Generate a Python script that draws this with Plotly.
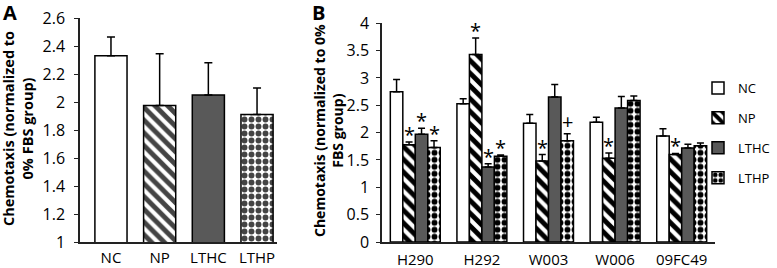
import plotly.graph_objects as go

# ---------------- data ----------------
a_categories = ["NC", "NP", "LTHC", "LTHP"]
a_values = [2.33, 1.975, 2.05, 1.91]
a_errors = [0.135, 0.37, 0.23, 0.19]

b_categories = ["H290", "H292", "W003", "W006", "09FC49"]
series_names = ["NC", "NP", "LTHC", "LTHP"]
nc_values = [2.75, 2.53, 2.17, 2.19, 1.94]
nc_errors = [0.22, 0.09, 0.16, 0.09, 0.13]
np_values = [1.78, 3.43, 1.48, 1.53, 1.60]
np_errors = [0.05, 0.30, 0.12, 0.10, 0.02]
lthc_values = [1.97, 1.37, 2.65, 2.45, 1.72]
lthc_errors = [0.11, 0.06, 0.23, 0.21, 0.07]
lthp_values = [1.73, 1.57, 1.85, 2.59, 1.76]
lthp_errors = [0.12, 0.02, 0.13, 0.08, 0.05]
nc_marks = ["", "", "", "", ""]
np_marks = ["*", "*", "*", "*", "*"]
lthc_marks = ["*", "*", "", "", ""]
lthp_marks = ["*", "*", "+", "", ""]

a_tick_vals = [1, 1.2, 1.4, 1.6, 1.8, 2, 2.2, 2.4, 2.6]
b_tick_vals = [0, 0.5, 1, 1.5, 2, 2.5, 3, 3.5, 4]

# ---------------- layout helpers ----------------
FONT = "Open Sans"
W, H = 777, 268


def px(x):
    return x / W


def py(y):
    return 1 - y / H


fills = {"NC": "white", "NP": "white", "LTHC": "#595959", "LTHP": "white"}
shapes = {"NC": "", "NP": "\\", "LTHC": "", "LTHP": "."}
psize = {"NC": 8, "NP": 9, "LTHC": 8, "LTHP": 7}
psolid = {"NC": 0.3, "NP": 0.55, "LTHC": 0.3, "LTHP": 0.55}

fig = go.Figure()

# Panel A: single trace with per-bar patterns
fig.add_trace(go.Bar(
    x=a_categories, y=a_values,
    xaxis="x", yaxis="y", showlegend=False, width=0.66,
    marker=dict(
        color=[fills[c] for c in a_categories],
        line=dict(color="black", width=1.5),
        pattern=dict(shape=[shapes[c] for c in a_categories],
                     fgcolor="black", fgopacity=1, size=[psize[c] for c in a_categories],
                     solidity=[psolid[c] for c in a_categories], fillmode="overlay"),
    ),
    error_y=dict(type="data", symmetric=False, array=a_errors,
                 arrayminus=[0] * len(a_errors), color="black", thickness=1.5, width=4),
))

b_values = [nc_values, np_values, lthc_values, lthp_values]
b_errors = [nc_errors, np_errors, lthc_errors, lthp_errors]
b_marks = [nc_marks, np_marks, lthc_marks, lthp_marks]

for name, vals, errs in zip(series_names, b_values, b_errors):
    fig.add_trace(go.Bar(
        x=b_categories, y=vals, name=name, legendgroup=name,
        xaxis="x2", yaxis="y2",
        marker=dict(
            color=fills[name], line=dict(color="black", width=1.5),
            pattern=dict(shape=shapes[name], fgcolor="black", fgopacity=1, size=psize[name],
                         solidity=psolid[name], fillmode="overlay"),
        ),
        error_y=dict(type="data", symmetric=False, array=errs,
                     arrayminus=[0] * len(errs), color="black", thickness=1.5, width=3.5),
    ))

bargap = 0.25
bar_w = (1 - bargap) / len(series_names)
annotations = []
for j, (vals, errs, marks) in enumerate(zip(b_values, b_errors, b_marks)):
    for i, m in enumerate(marks):
        if m:
            annotations.append(dict(
                x=i + (j - 1.5) * bar_w, y=vals[i] + errs[i], xref="x2", yref="y2",
                text=m, showarrow=False, yanchor="bottom", xanchor="center",
                yshift=-8 if m == "*" else -3,
                font=dict(family=FONT, size=20, color="black"),
            ))

# axis titles and panel letters
annotations += [
    dict(x=px(18), y=py(129), xref="paper", yref="paper", textangle=-90,
         text="<b>Chemotaxis (normalized to<br>0% FBS group)</b>", showarrow=False,
         xanchor="center", yanchor="middle", font=dict(family=FONT, size=14.5, color="black")),
    dict(x=px(328), y=py(131), xref="paper", yref="paper", textangle=-90,
         text="<b>Chemotaxis (normalized to 0%<br>FBS group)</b>", showarrow=False,
         xanchor="center", yanchor="middle", font=dict(family=FONT, size=14, color="black")),
    dict(x=px(10), y=py(12), xref="paper", yref="paper", text="<b>A</b>",
         showarrow=False, xanchor="center", yanchor="middle",
         font=dict(family=FONT, size=20, color="black")),
    dict(x=px(318), y=py(12), xref="paper", yref="paper", text="<b>B</b>",
         showarrow=False, xanchor="center", yanchor="middle",
         font=dict(family=FONT, size=20, color="black")),
]

axis_line = dict(showline=True, linecolor="#222", linewidth=1.5, showgrid=False,
                 zeroline=False)
tick_font = dict(family=FONT, size=16, color="black")
xtick_font = dict(family=FONT, size=15, color="black")

fig.update_layout(
    width=W, height=H, autosize=False,
    margin=dict(l=0, r=0, t=0, b=0, autoexpand=False),
    paper_bgcolor="white", plot_bgcolor="white",
    barmode="group", bargap=bargap, bargroupgap=0,
    font=dict(family=FONT, size=16, color="black"),
    xaxis=dict(domain=[px(80), px(277)], range=[-0.636, 3.41], anchor="y",
               ticks="", ticklabelstandoff=1, tickfont=xtick_font, **axis_line),
    yaxis=dict(domain=[py(242), py(18)], range=[1, 2.6], anchor="x",
               tickvals=a_tick_vals, ticks="outside", ticklen=4, tickcolor="#222",
               ticklabelstandoff=6, tickfont=tick_font, **axis_line),
    xaxis2=dict(domain=[px(382), px(715)], range=[-0.5, 4.5], anchor="y2",
                ticks="", ticklabelstandoff=3, tickfont=xtick_font, **axis_line),
    yaxis2=dict(domain=[py(242), py(23.3)], range=[0, 4], anchor="x2",
                tickvals=b_tick_vals, ticks="outside", ticklen=4, tickcolor="#222",
                ticklabelstandoff=4, tickfont=tick_font, **axis_line),
    legend=dict(x=px(698), y=py(73), xanchor="left", yanchor="top",
                bgcolor="rgba(0,0,0,0)", tracegroupgap=10, traceorder="grouped",
                font=dict(family=FONT, size=13, color="black"), itemwidth=30),
    annotations=annotations,
)

# remove the default page margin so the 777x268 figure fills the window exactly
fig.write_html("out.html", config={"displayModeBar": False},
               post_script="document.body.style.margin='0';")
